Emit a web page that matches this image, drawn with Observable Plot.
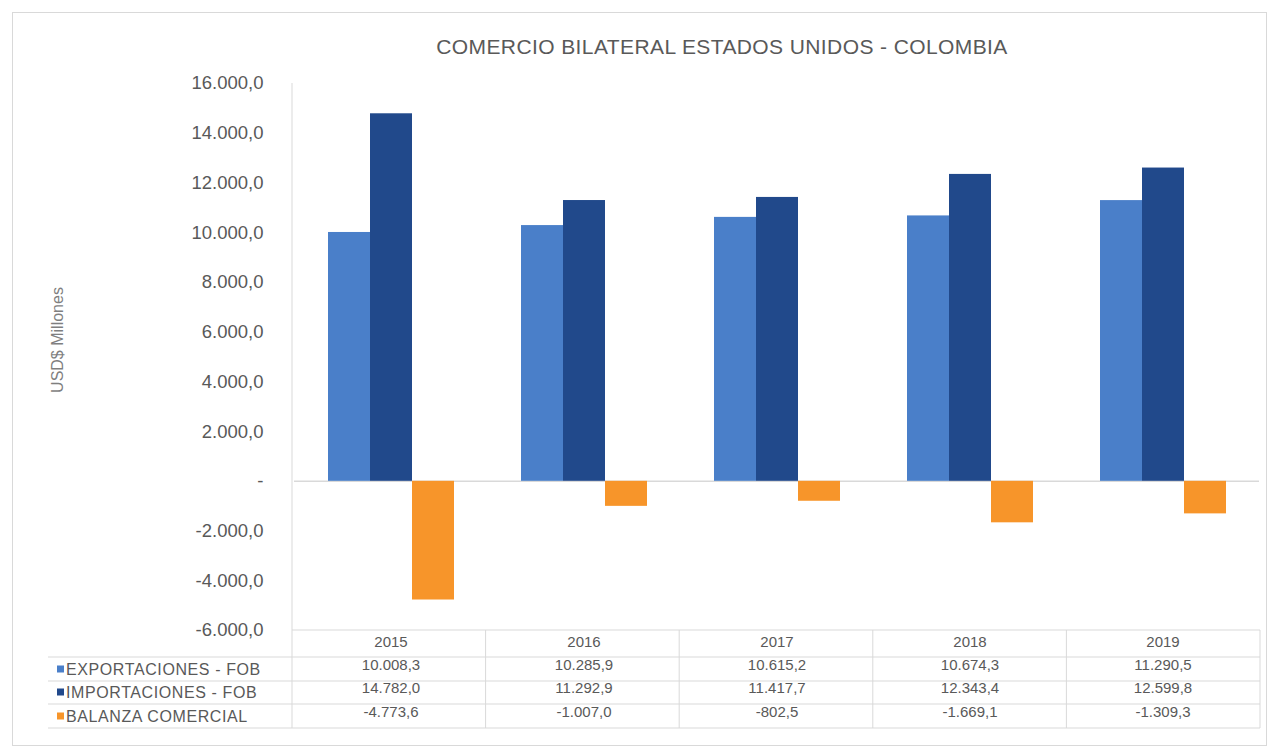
<!DOCTYPE html>
<html>
<head>
<meta charset="utf-8">
<script src="https://cdn.jsdelivr.net/npm/d3@7"></script>
<script src="https://cdn.jsdelivr.net/npm/@observablehq/plot@0.6"></script>
<style>
  html, body { margin: 0; padding: 0; background: #fff; }
  #wrap { position: relative; width: 1274px; height: 753px; overflow: hidden; font-family: "Liberation Sans", Arial, sans-serif; }
  #border { position: absolute; left: 12px; top: 12px; width: 1255px; height: 734px; border: 1px solid #d9d9d9; box-sizing: border-box; }
  #title { position: absolute; top: 35px; left: 292px; width: 860px; text-align: center; font-size: 21px; color: #595959; letter-spacing: 0.4px; }
  #chart { position: absolute; left: 0; top: 0; }
</style>
</head>
<body>
<div id="wrap">
  <div id="border"></div>
  <div id="chart"></div>
  <div id="title">COMERCIO BILATERAL ESTADOS UNIDOS - COLOMBIA</div>
</div>
<script>
const years = ["2015", "2016", "2017", "2018", "2019"];
const exportaciones = [10008.3, 10285.9, 10615.2, 10674.3, 11290.5];
const importaciones = [14782.0, 11292.9, 11417.7, 12343.4, 12599.8];
const balanza = [-4773.6, -1007.0, -802.5, -1669.1, -1309.3];
const seriesNames = ["EXPORTACIONES - FOB", "IMPORTACIONES - FOB", "BALANZA COMERCIAL"];
const seriesColors = ["#4a7fc9", "#21498b", "#f7952a"];
const yTicks = [-6000, -4000, -2000, 0, 2000, 4000, 6000, 8000, 10000, 12000, 14000, 16000];
const yLabel = "USD$ Millones";

const seriesValues = [exportaciones, importaciones, balanza];
const rows = [];
years.forEach((yr, i) => {
  seriesNames.forEach((s, k) => rows.push({year: yr, series: s, value: seriesValues[k][i]}));
});

const locale = d3.formatLocale({decimal: ",", thousands: ".", grouping: [3], currency: ["$", ""], minus: "-"});
const fmt = locale.format(",.1f");
const tickFmt = d => d === 0 ? "-" : fmt(d);

const W = 1274, H = 753, ML = 292, MR = 14, MT = 83, MB = 123;
const grey = "#595959";
const rowDy = [39, 62, 86];
const font = "'Liberation Sans', Arial, sans-serif";

const plot = Plot.plot({
  width: W, height: H,
  marginTop: MT, marginBottom: MB, marginLeft: ML, marginRight: MR,
  style: {fontFamily: font, fontSize: "16px", color: grey, background: "transparent", overflow: "visible"},
  fx: {domain: years, padding: 0, axis: null},
  x: {domain: seriesNames, paddingInner: 0, paddingOuter: 0.75, axis: null},
  y: {domain: [-6000, 16000]},
  color: {domain: seriesNames, range: seriesColors},
  marks: [
    Plot.axisY({ticks: yTicks, tickSize: 0, tickPadding: 31, tickFormat: tickFmt, fontSize: 18.5, label: null}),
    Plot.ruleY([0], {stroke: "#d9d9d9", strokeWidth: 1.5}),
    Plot.barY(rows, {fx: "year", x: "series", y: "value", fill: "series"}),
    Plot.text(years, {fx: d => d, text: d => d, frameAnchor: "bottom", dy: 16, fontSize: 15, fill: grey}),
    ...seriesNames.map((s, k) => Plot.text(rows.filter(r => r.series === s), {
      fx: "year", text: d => fmt(d.value), frameAnchor: "bottom", dy: rowDy[k], fontSize: 15, fill: grey
    }))
  ]
});

document.getElementById("chart").appendChild(plot);

// Table grid, y axis line, row labels, axis title
const svg = d3.select(plot);
const yS = plot.scale("y");
const yBottom = yS.apply(-6000);
const yTop = yS.apply(16000);
const step = (W - MR - ML) / years.length;
const lineColor = "#d9d9d9";
const g = svg.append("g").attr("stroke", lineColor).attr("stroke-width", 1);
g.append("line").attr("x1", ML).attr("x2", ML).attr("y1", yTop).attr("y2", yBottom);
const hLines = [yBottom, yBottom + 27, yBottom + 51, yBottom + 74, yBottom + 98];
hLines.forEach((y, i) => {
  g.append("line").attr("x1", i === 0 ? ML : 48).attr("x2", W - MR).attr("y1", y).attr("y2", y);
});
for (let k = 0; k <= years.length; k++) {
  g.append("line").attr("x1", ML + k * step).attr("x2", ML + k * step).attr("y1", yBottom).attr("y2", hLines[4]);
}
const lg = svg.append("g").attr("font-size", 16).attr("fill", grey).attr("font-family", font)
  .attr("text-anchor", "start").attr("letter-spacing", "0.6px");
seriesNames.forEach((s, k) => {
  const cy = yBottom + rowDy[k];
  lg.append("rect").attr("x", 57).attr("y", cy - 3.5).attr("width", 7).attr("height", 7).attr("fill", seriesColors[k]);
  lg.append("text").attr("x", 66).attr("y", cy).attr("dy", "0.35em").text(s);
});
svg.append("text")
  .attr("transform", "translate(57,340) rotate(-90)")
  .attr("text-anchor", "middle").attr("dy", "0.35em")
  .style("font-size", "16px").attr("font-family", font).attr("fill", "#7f7f7f")
  .text(yLabel);
</script>
</body>
</html>
